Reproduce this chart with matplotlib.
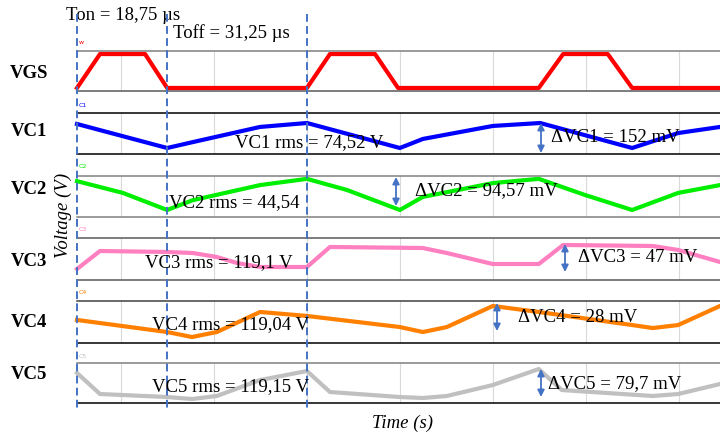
import matplotlib.pyplot as plt
import matplotlib.transforms as mtransforms
from matplotlib.lines import Line2D
from matplotlib.patches import FancyArrowPatch

W, H = 720, 436

# time in µs, ripple values in mV
t_vgs = [0, 5, 14.8, 19.6, 50, 55, 64.8, 69.8, 100.4, 105.7, 115.4, 120.7, 139.8]
vgs = [0, 1, 1, 0, 0, 1, 1, 0, 0, 1, 1, 0, 0]

t_vc1 = [0, 19.6, 25.2, 39.8, 50, 70.2, 75.2, 90.4, 100.7, 120.7, 130.7, 139.8]
vc1 = [146, 0, 36, 128, 152, 0, 55, 134, 152, 0, 91, 128]

t_vc2 = [0, 10, 19.6, 25.2, 39.8, 50, 58.7, 70.2, 75.2, 90.4, 100.4, 110.4, 120.7, 130.7, 139.8]
vc2 = [88, 52, 0, 30, 76, 95, 61, 0, 40, 82, 95, 46, 0, 52, 76]

t_vc3 = [0, 5, 19.6, 25.2, 30.4, 34.8, 39.8, 50, 55, 75.2, 80.4, 90.4, 100.4, 105.7, 125.2, 130.7, 139.8]
vc3 = [0, 38.5, 36.4, 34.2, 25.7, 12.8, 4.3, 4.3, 47.1, 44.9, 34.2, 10.7, 10.7, 51.4, 49.2, 40.7, 15.0]

t_vc4 = [0, 19.6, 25, 30.4, 39.8, 50, 70.2, 75.2, 80.4, 90.4, 100.4, 120.7, 125.2, 130.7, 139.8]
vc4 = [15.4, 4.5, 0, 4.5, 22.6, 19.0, 9.0, 4.5, 9.0, 28.0, 22.6, 10.8, 8.1, 10.8, 28.0]

t_vc5 = [0, 5, 19.6, 25, 30.4, 39.8, 50, 55, 70.2, 75.2, 80.4, 90.4, 100.4, 105.4, 125.2, 130.7, 139.8]
vc5 = [69.2, 13.3, 5.3, 0, 8.0, 50.5, 74.5, 18.6, 5.3, 2.7, 8.0, 37.2, 79.7, 23.9, 8.0, 13.3, 39.9]

names = ['VGS', 'VC1', 'VC2', 'VC3', 'VC4', 'VC5']
tags = ['w', 'C1', 'C2', 'C3', 'C4', 'C5']
colors = ['#ff0000', '#0000ff', '#00ee00', '#ff80c0', '#ff8000', '#c0c0c0']
rms_labels = ['', 'VC1 rms = 74,52 V', 'VC2 rms = 44,54', 'VC3 rms = 119,1 V',
              'VC4 rms = 119,04 V', 'VC5 rms = 119,15 V']
ripple_labels = ['', 'ΔVC1 = 152 mV', 'ΔVC2 = 94,57 mV', 'ΔVC3 = 47 mV',
                 'ΔVC4 = 28 mV', 'ΔVC5 = 79,7 mV']
series = [(t_vgs, vgs), (t_vc1, vc1), (t_vc2, vc2), (t_vc3, vc3), (t_vc4, vc4), (t_vc5, vc5)]

# layout (pixels) -----------------------------------------------------------
x_left = 77
t_max = 139.8
panel_px = [(51, 91), (113, 154), (176, 217), (238, 280), (301, 343), (363, 403)]
ylims = [(-0.09, 1.09), (-36.5, 212.8), (-21.4, 103.7), (-23.5, 66.3), (-5.4, 32.5), (-10.6, 95.8)]
spine_cols = [('#7f7f7f', '#595959'), ('#000000', '#000000'), ('#808080', '#808080'),
              ('#595959', '#595959'), ('#404040', '#000000'), ('#7f7f7f', '#000000')]
label_y = [73, 132, 189, 262, 322, 374]
tag_y = [42, 105, 167, 229, 292, 356]
rms_xy = [None, (235, 143), (169, 203), (145, 263), (152, 325), (152, 387)]
rip_xy = [None, (551, 138), (415, 191), (578, 257), (518, 318), (548, 384)]
arrow_px = [None, (541, 123, 153), (396, 177, 206), (565, 244, 272), (497, 303, 331), (541, 369, 397)]
grid_t = [9.6, 29.8, 50, 70.2, 90.4, 110.6, 130.8]
switch_t = [0, 19.6, 50]

serif = 'Liberation Serif'
blue = '#4472c4'


def fx(x):
    return x / W


def fy(y):
    return 1 - y / H


fig = plt.figure(figsize=(W / 100, H / 100), dpi=100)

axes = []
for i, (t, v) in enumerate(series):
    top, bot = panel_px[i]
    ax = fig.add_axes([fx(x_left), fy(bot), 1 - fx(x_left), (bot - top) / H])
    ax.plot(t, v, color=colors[i], lw=3, zorder=3, clip_on=False)
    ax.set_xlim(0, t_max)
    ax.set_ylim(*ylims[i])
    ax.set_xticks(grid_t)
    ax.set_yticks([])
    ax.tick_params(length=0, labelbottom=False)
    ax.grid(axis='x', color='#d9d9d9', lw=0.8)
    for s in ['left', 'right']:
        ax.spines[s].set_visible(False)
    ax.spines['top'].set_color(spine_cols[i][0])
    ax.spines['bottom'].set_color(spine_cols[i][1])
    ax.spines['top'].set_linewidth(1.1)
    ax.spines['bottom'].set_linewidth(1.1)
    axes.append(ax)

    fig.text(fx(29), fy(label_y[i]), names[i], family=serif, fontsize=13.5,
             fontweight='bold', ha='center', va='center')
    fig.text(fx(79), fy(tag_y[i]), tags[i], family='DejaVu Sans', fontsize=4.5,
             color=colors[i], ha='left', va='center')
    if rms_xy[i]:
        fig.text(fx(rms_xy[i][0]), fy(rms_xy[i][1]), rms_labels[i], family=serif,
                 fontsize=13.5, ha='left', va='center', zorder=5)
        fig.text(fx(rip_xy[i][0]), fy(rip_xy[i][1]), ripple_labels[i], family=serif,
                 fontsize=13.5, ha='left', va='center', zorder=5)
        ax_x, y0, y1 = arrow_px[i]
        fig.add_artist(FancyArrowPatch((fx(ax_x), fy(y0)), (fx(ax_x), fy(y1)),
                                       transform=fig.transFigure, arrowstyle='<|-|>',
                                       mutation_scale=10, color=blue, lw=1.3,
                                       shrinkA=0, shrinkB=0, zorder=6))

# switching instants
trans = mtransforms.blended_transform_factory(axes[0].transData, fig.transFigure)
for t in switch_t:
    fig.add_artist(Line2D([t, t], [fy(14), fy(408)], transform=trans, color=blue,
                          lw=1.4, linestyle=(0, (4, 2.2)), zorder=4))

fig.text(fx(66), fy(15), 'Ton = 18,75 µs', family=serif, fontsize=13.5, ha='left', va='center')
fig.text(fx(173), fy(33), 'Toff = 31,25 µs', family=serif, fontsize=13.5, ha='left', va='center')
fig.text(fx(63), fy(215), 'Voltage (V)', family=serif, fontsize=13.5, style='italic',
         rotation=90, ha='center', va='center')
fig.text(fx(403), fy(423), 'Time (s)', family=serif, fontsize=13.5, style='italic',
         ha='center', va='center')

fig.savefig('out.png', dpi=100)
